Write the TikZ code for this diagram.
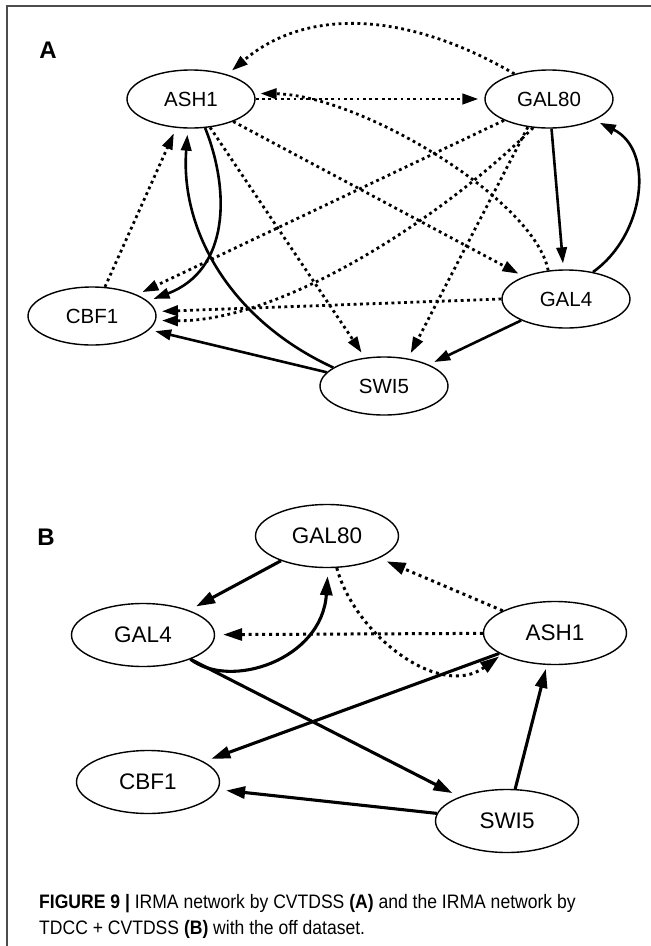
\documentclass[tikz,border=0pt]{standalone}
\usepackage{fontspec}
\setmainfont{Liberation Sans}
\newfontfamily\capfont[FakeStretch=0.9]{Liberation Sans}
\usetikzlibrary{shapes.geometric,arrows.meta}

\begin{document}
\begin{tikzpicture}[x=1pt,y=-1pt,
  gene/.style={ellipse,draw,line width=1.4pt,minimum width=128pt,minimum height=58pt,
    inner sep=0pt,font=\fontsize{20.5}{24}\selectfont},
  geneB/.style={gene,minimum width=143pt,minimum height=63pt,font=\fontsize{22.5}{26}\selectfont},
  solidA/.style={line width=2.6pt,-{Triangle[length=16pt,width=10.5pt]},shorten >=6pt},
  dotA/.style={solidA,line width=2.8pt,dash pattern=on 2.8pt off 3.5pt},
  solidB/.style={line width=3.1pt,-{Triangle[length=19pt,width=12pt]},shorten >=8pt},
  dotB/.style={solidB,line width=3pt,dash pattern=on 3pt off 3.8pt},
  frameline/.style={draw=black!70,line width=1.3pt},
  panel/.style={font=\bfseries\fontsize{24}{28}\selectfont},
  capline/.style={anchor=base west,inner sep=0pt,font=\capfont\fontsize{19.5}{22}\selectfont}
]
\useasboundingbox (0,0) rectangle (651,946);
\path[fill=white] (0,0) rectangle (651,946);

% frame on the top and left edges
\draw[frameline] (7,946) -- (7,6) -- (651,6);

% ---------------- panel A ----------------
\node[panel] (labA) at (48,50) {A};
\node[gene] (ash1A)  at (191,99)  {ASH1};
\node[gene] (gal80A) at (549,99)  {GAL80};
\node[gene] (cbf1A)  at (92,316)  {CBF1};
\node[gene] (gal4A)  at (566,299) {GAL4};
\node[gene] (swi5A)  at (384,386) {SWI5};

% dotted links
\draw[dotA] (gal80A.144) .. controls (405,10) and (305,8) .. (ash1A.34);
\draw[dotA] (ash1A) -- (gal80A);
\draw[dotA] (gal4A.122) .. controls (535,200) and (360,95) .. (ash1A.5);
\draw[dotA] (ash1A) -- (gal4A);
\draw[dotA] (ash1A) -- (swi5A);
\draw[dotA] (gal80A) -- (cbf1A);
\draw[dotA] (gal80A.233) -- (swi5A.49);
\draw[dotA] (gal80A.241) .. controls (440,220) and (280,322) .. (cbf1A.-4);
\draw[dotA] (gal4A.180) -- (cbf1A.4);
\draw[dotA] (cbf1A.66) -- (ash1A.243);

% solid links
\draw[solidA] (swi5A.160) .. controls (230,320) and (180,230) .. (ash1A.264);
\draw[solidA] (ash1A.-64) .. controls (230,190) and (230,270) .. (cbf1A.15);
\draw[solidA] (gal80A) -- (gal4A);
\draw[solidA] (gal4A.45) .. controls (645,235) and (655,150) .. (gal80A.-25);
\draw[solidA] (gal4A) -- (swi5A);
\draw[solidA] (swi5A) -- (cbf1A);

% ---------------- panel B ----------------
\node[panel] (labB) at (46,537) {B};
\node[geneB] (gal80B) at (327,536) {GAL80};
\node[geneB] (gal4B)  at (143,635) {GAL4};
\node[geneB] (ash1B)  at (555,633) {ASH1};
\node[geneB] (cbf1B)  at (148,782) {CBF1};
\node[geneB] (swi5B)  at (507,821) {SWI5};

\draw[solidB] (gal80B) -- (gal4B);
\draw[solidB] (gal4B.-27) .. controls (230,690) and (322,660) .. (gal80B.-88);
\draw[dotB] (ash1B) -- (gal80B);
\draw[dotB] (ash1B) -- (gal4B);
\draw[dotB,shorten >=3pt] (gal80B.-73) .. controls (355,635) and (440,700) .. (ash1B.202);
\draw[solidB] (ash1B) -- (cbf1B);
\draw[solidB] (gal4B) -- (swi5B);
\draw[solidB,shorten >=4pt] (swi5B) -- (ash1B);
\draw[solidB] (swi5B) -- (cbf1B);

% ---------------- caption ----------------
\node[capline] (cap1) at (39,908) {\textbf{FIGURE 9 |} IRMA network by CVTDSS \textbf{(A)} and the IRMA network by};
\node[capline] (cap2) at (39,934) {TDCC + CVTDSS \textbf{(B)} with the off dataset.};
\end{tikzpicture}
\end{document}
